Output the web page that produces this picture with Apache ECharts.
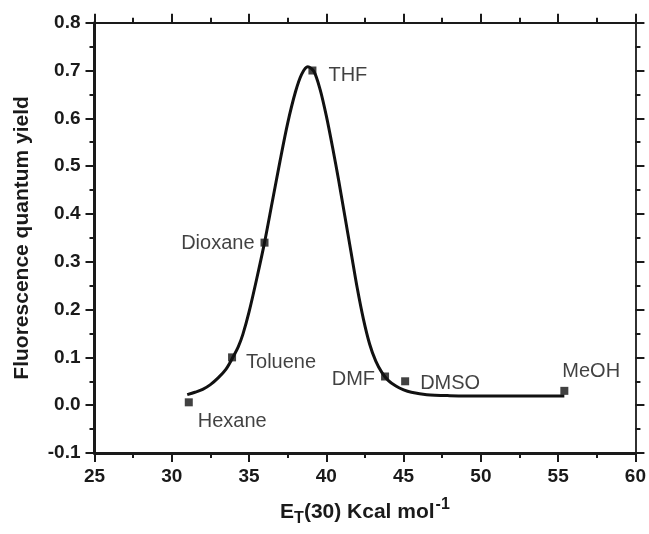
<!DOCTYPE html>
<html><head><meta charset="utf-8">
<script src="https://cdn.jsdelivr.net/npm/echarts@6/dist/echarts.min.js"></script>
<style>html,body{margin:0;padding:0;background:#fff}#c{width:649px;height:534px}</style>
</head><body><div id="c"></div>
<script>
// Data
const solventNames = ['Hexane','Toluene','Dioxane','THF','DMF','DMSO','MeOH'];
const solventET = [31.1, 33.9, 36.0, 39.1, 43.8, 45.1, 55.4];
const solventQY = [0.006, 0.10, 0.34, 0.70, 0.06, 0.05, 0.03];

const fitX = [31.0, 31.5, 32.0, 32.5, 33.0, 33.5, 33.9, 34.3, 34.6, 35.0, 35.5, 36.0, 36.5, 37.0, 37.5, 38.0, 38.4, 38.8, 39.2, 39.6, 40.0, 40.4, 40.8, 41.2, 41.6, 42.0, 42.4, 42.8, 43.2, 43.6, 44.0, 44.5, 45.0, 45.5, 46.5, 48.0, 50.0, 52.0, 55.4];
const fitY = [0.022, 0.027, 0.033, 0.043, 0.057, 0.075, 0.097, 0.122, 0.148, 0.195, 0.265, 0.340, 0.425, 0.510, 0.590, 0.655, 0.692, 0.708, 0.698, 0.660, 0.605, 0.540, 0.470, 0.395, 0.320, 0.245, 0.180, 0.128, 0.092, 0.068, 0.052, 0.040, 0.032, 0.027, 0.022, 0.020, 0.019, 0.019, 0.019];

const xTicks = {min: 25, max: 60, step: 5};
const yTicks = {min: -0.1, max: 0.8, step: 0.1};

// label placement (layout, kept separate from data)
const labelPlace = {
  Hexane:  {position: 'right', distance: 5,  offset: [0, 19]},
  Toluene: {position: 'right', distance: 10, offset: [0, 5]},
  Dioxane: {position: 'left',  distance: 6,  offset: [0, 1]},
  THF:     {position: 'right', distance: 12, offset: [0, 5]},
  DMF:     {position: 'left',  distance: 6,  offset: [0, 3]},
  DMSO:    {position: 'right', distance: 11, offset: [0, 2]},
  MeOH:    {position: 'right', distance: 0,  offset: [-6, -19]}
};

const FONT = 'Liberation Sans, Arial, Helvetica, sans-serif';
const axisCol = '#1a1a1a';

const fitData = fitX.map((x, i) => [x, fitY[i]]);
const ptData = solventNames.map((n, i) => ({
  name: n,
  value: [solventET[i], solventQY[i]],
  label: Object.assign({show: true, formatter: n}, labelPlace[n])
}));

function baseX(pos, opts) {
  return Object.assign({
    type: 'value', position: pos, min: xTicks.min, max: xTicks.max, interval: xTicks.step,
    axisLine: {show: true, onZero: false, lineStyle: {color: axisCol, width: 3}},
    axisTick: {show: true, length: 9, lineStyle: {color: axisCol, width: 2}},
    minorTick: {show: true, splitNumber: 2, length: 5, lineStyle: {color: axisCol, width: 2}},
    splitLine: {show: false}, minorSplitLine: {show: false}
  }, opts);
}
function baseY(pos, opts) {
  return Object.assign({
    type: 'value', position: pos, min: yTicks.min, max: yTicks.max, interval: yTicks.step,
    axisLine: {show: true, onZero: false, lineStyle: {color: axisCol, width: 3}},
    axisTick: {show: true, length: 9, lineStyle: {color: axisCol, width: 2}},
    minorTick: {show: true, splitNumber: 2, length: 5, lineStyle: {color: axisCol, width: 2}},
    splitLine: {show: false}, minorSplitLine: {show: false}
  }, opts);
}

const chart = echarts.init(document.getElementById('c'), null, {renderer: 'canvas'});
chart.setOption({
  animation: false,
  backgroundColor: '#ffffff',
  grid: {left: 94.5, right: 11, top: 22.7, bottom: 73},
  xAxis: [
    baseX('bottom', {
      axisLabel: {show: true, margin: 14, color: '#1a1a1a', fontFamily: FONT, fontWeight: 'bold', fontSize: 19},
      name: '{e|E}{sub|T}{e|(30) Kcal mol}{sup|-1}',
      nameLocation: 'middle', nameGap: 44,
      nameTextStyle: {
        rich: {
          e: {fontFamily: FONT, fontWeight: 'bold', fontSize: 21, color: '#1a1a1a', verticalAlign: 'middle', lineHeight: 30},
          sub: {fontFamily: FONT, fontWeight: 'bold', fontSize: 16, color: '#1a1a1a', verticalAlign: 'bottom', lineHeight: 30, padding: [14, 0, 0, 0]},
          sup: {fontFamily: FONT, fontWeight: 'bold', fontSize: 16, color: '#1a1a1a', verticalAlign: 'top', lineHeight: 30, padding: [0, 0, 16, 1]}
        }
      }
    }),
    baseX('top', {axisLabel: {show: false}, axisLine: {show: true, onZero: false, lineStyle: {color: axisCol, width: 1.8}}})
  ],
  yAxis: [
    baseY('left', {
      axisLabel: {show: true, margin: 14, color: '#1a1a1a', fontFamily: FONT, fontWeight: 'bold', fontSize: 19,
        formatter: v => v.toFixed(1)},
      name: 'Fluorescence quantum yield', nameLocation: 'middle', nameGap: 62, nameRotate: 90,
      nameTextStyle: {fontFamily: FONT, fontWeight: 'bold', fontSize: 21, color: '#1a1a1a'}
    }),
    baseY('right', {axisLabel: {show: false}, axisLine: {show: true, onZero: false, lineStyle: {color: axisCol, width: 1.8}}})
  ],
  series: [
    {
      type: 'line', data: fitData, smooth: 0.3, showSymbol: false,
      lineStyle: {color: '#111', width: 3}, z: 2
    },
    {
      type: 'scatter', data: ptData, symbol: 'rect', symbolSize: 8,
      itemStyle: {color: '#111'}, z: 3,
      label: {color: '#111', fontFamily: FONT, fontSize: 20}
    }
  ]
});
</script></body></html>
